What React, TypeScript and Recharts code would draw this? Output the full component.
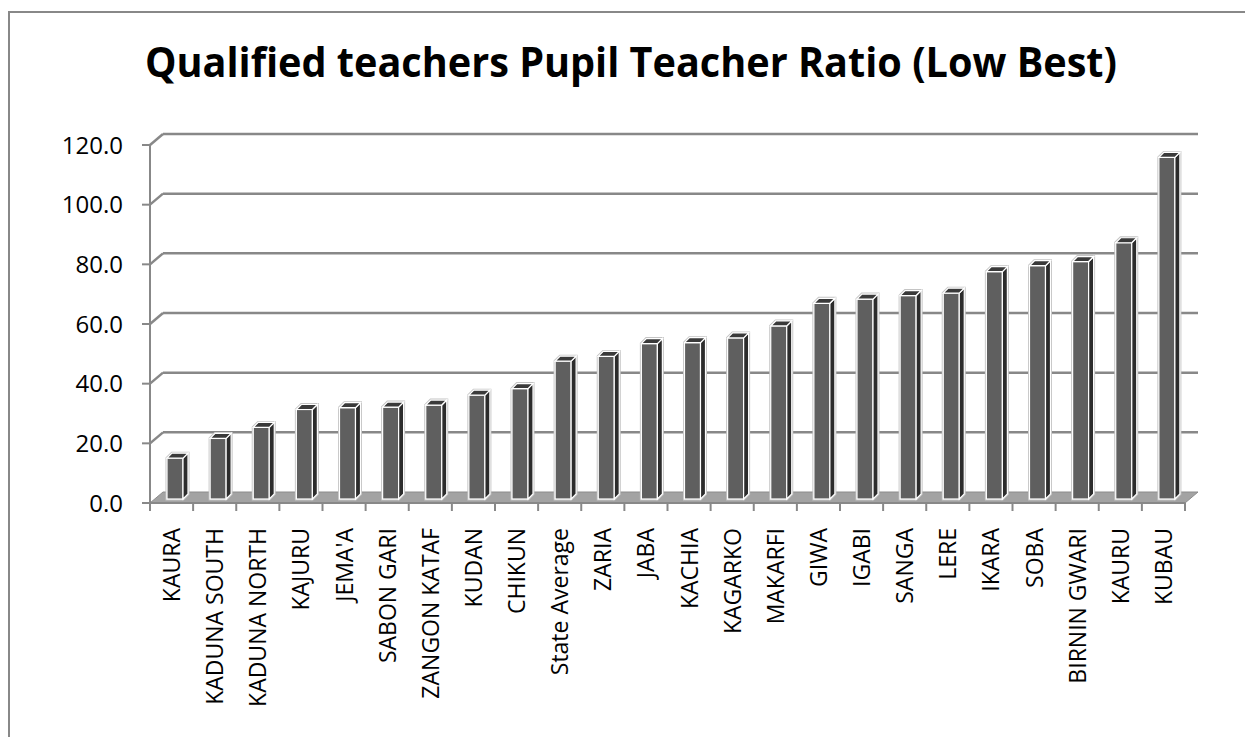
import React from 'react';
import { BarChart, Bar, XAxis, YAxis, CartesianGrid } from 'recharts';

const categories = [
  'KAURA', 'KADUNA SOUTH', 'KADUNA NORTH', 'KAJURU', "JEMA'A", 'SABON GARI',
  'ZANGON KATAF', 'KUDAN', 'CHIKUN', 'State Average', 'ZARIA', 'JABA',
  'KACHIA', 'KAGARKO', 'MAKARFI', 'GIWA', 'IGABI', 'SANGA', 'LERE', 'IKARA',
  'SOBA', 'BIRNIN GWARI', 'KAURU', 'KUBAU',
];
const ratios = [
  13.7, 20.3, 24.0, 30.0, 30.6, 30.8, 31.5, 34.8, 37.0, 46.2, 47.8, 52.1,
  52.4, 54.0, 58.0, 65.6, 67.0, 68.2, 69.0, 76.2, 78.2, 79.6, 85.9, 114.5,
];
const yTicks = [0, 20, 40, 60, 80, 100, 120];

const TITLE = 'Qualified teachers Pupil Teacher Ratio (Low Best)';
const W = 1245;
const H = 737;
const AXIS = '#888888';
const FONT = '"Open Sans", "Liberation Sans", sans-serif';

// 3D look: back wall is shifted up/right from the front axis
const DX = 13;
const DY = -11;
const DEPTH = 5;
const BAND = (1185 - 150) / categories.length;

const data = categories.map((name, i) => ({ name, v: ratios[i] }));

function Bar3D(props: any) {
  const { x, y, width, height } = props;
  if (height == null || height <= 0) return null;
  const bx = x + 3;
  const by = y - 4;
  const w = width;
  const h = height;
  const d = DEPTH;
  const outline = `${bx},${by + h} ${bx},${by} ${bx + d},${by - d} ${bx + w + d},${by - d} ${bx + w + d},${by + h - d} ${bx + w},${by + h}`;
  return (
    <g>
      <polygon points={outline} fill="none" stroke="#c4c4c4" strokeWidth={3} />
      <rect x={bx} y={by} width={w} height={h} fill="#5f5f5f" stroke="#ffffff" strokeWidth={1.2} />
      <polygon
        points={`${bx + w},${by} ${bx + w + d},${by - d} ${bx + w + d},${by + h - d} ${bx + w},${by + h}`}
        fill="#2c2c2c" stroke="#ffffff" strokeWidth={1.2}
      />
      <polygon
        points={`${bx},${by} ${bx + d},${by - d} ${bx + w + d},${by - d} ${bx + w},${by}`}
        fill="#3a3a3a" stroke="#ffffff" strokeWidth={1.2}
      />
    </g>
  );
}

function GridLine(props: any) {
  const { x1, x2, y1 } = props;
  const isFloor = Math.abs(y1 - 503) < 1;
  if (isFloor) {
    return (
      <g key={props.key}>
        <polygon
          points={`${x1},${y1} ${x2},${y1} ${x2 + DX},${y1 + DY} ${x1 + DX},${y1 + DY}`}
          fill="#a3a3a3" stroke="#8c8c8c" strokeWidth={1}
        />
      </g>
    );
  }
  return (
    <g key={props.key}>
      <line x1={x1} y1={y1} x2={x1 + DX} y2={y1 + DY} stroke={AXIS} strokeWidth={2.5} />
      <line x1={x1 + DX} y1={y1 + DY} x2={x2 + DX} y2={y1 + DY} stroke={AXIS} strokeWidth={2.5} />
    </g>
  );
}

function YTick(props: any) {
  const { x, y, payload } = props;
  return (
    <text x={x - 19} y={y} dy="0.36em" textAnchor="end" fontFamily={FONT} fontSize={24} fill="#000">
      {Number(payload.value).toFixed(1)}
    </text>
  );
}

function XTick(props: any) {
  const { x, y, payload, index } = props;
  const left = x - BAND / 2;
  return (
    <g>
      <line x1={left} y1={y} x2={left} y2={y + 8} stroke={AXIS} strokeWidth={2} />
      {index === categories.length - 1 && (
        <line x1={x + BAND / 2} y1={y} x2={x + BAND / 2} y2={y + 8} stroke={AXIS} strokeWidth={2} />
      )}
      <text
        transform={`translate(${x + 8.5},${y + 25}) rotate(-90)`}
        textAnchor="end" fontFamily={FONT} fontSize={23} fill="#000"
      >
        {payload.value}
      </text>
    </g>
  );
}

export default function App() {
  return (
    <div style={{ position: 'fixed', left: 0, top: 0, width: W, height: H, overflow: 'hidden', background: '#fff' }}>
      <div
        style={{
          position: 'absolute', left: 8, top: 11, width: 1400, height: 900,
          borderLeft: `2px solid ${AXIS}`, borderTop: `2px solid ${AXIS}`,
        }}
      />
      <svg width={W} height={H} style={{ position: 'absolute', left: 0, top: 0 }}>
        <text
          x={631} y={77} textAnchor="middle" fontFamily={FONT} fontWeight={700}
          fontSize={42} textLength={972} lengthAdjust="spacingAndGlyphs" fill="#000"
        >
          {TITLE}
        </text>
      </svg>
      <div style={{ position: 'absolute', left: 0, top: 0 }}>
        <BarChart width={W} height={H} data={data} margin={{ top: 145, right: 60, left: 0, bottom: 0 }} barSize={16}>
          <CartesianGrid vertical={false} horizontal={(p: any) => <GridLine {...p} />} />
          <YAxis
            width={150}
            domain={[0, 120]}
            ticks={yTicks}
            interval={0}
            tickSize={8}
            tickMargin={0}
            tickLine={{ stroke: AXIS, strokeWidth: 2 }}
            axisLine={{ stroke: AXIS, strokeWidth: 2 }}
            tick={<YTick />}
          />
          <XAxis
            dataKey="name"
            height={234}
            interval={0}
            tickSize={0}
            tickMargin={0}
            tickLine={false}
            axisLine={{ stroke: AXIS, strokeWidth: 2 }}
            tick={<XTick />}
          />
          <Bar dataKey="v" isAnimationActive={false} shape={(p: any) => <Bar3D {...p} />} />
        </BarChart>
      </div>
    </div>
  );
}
